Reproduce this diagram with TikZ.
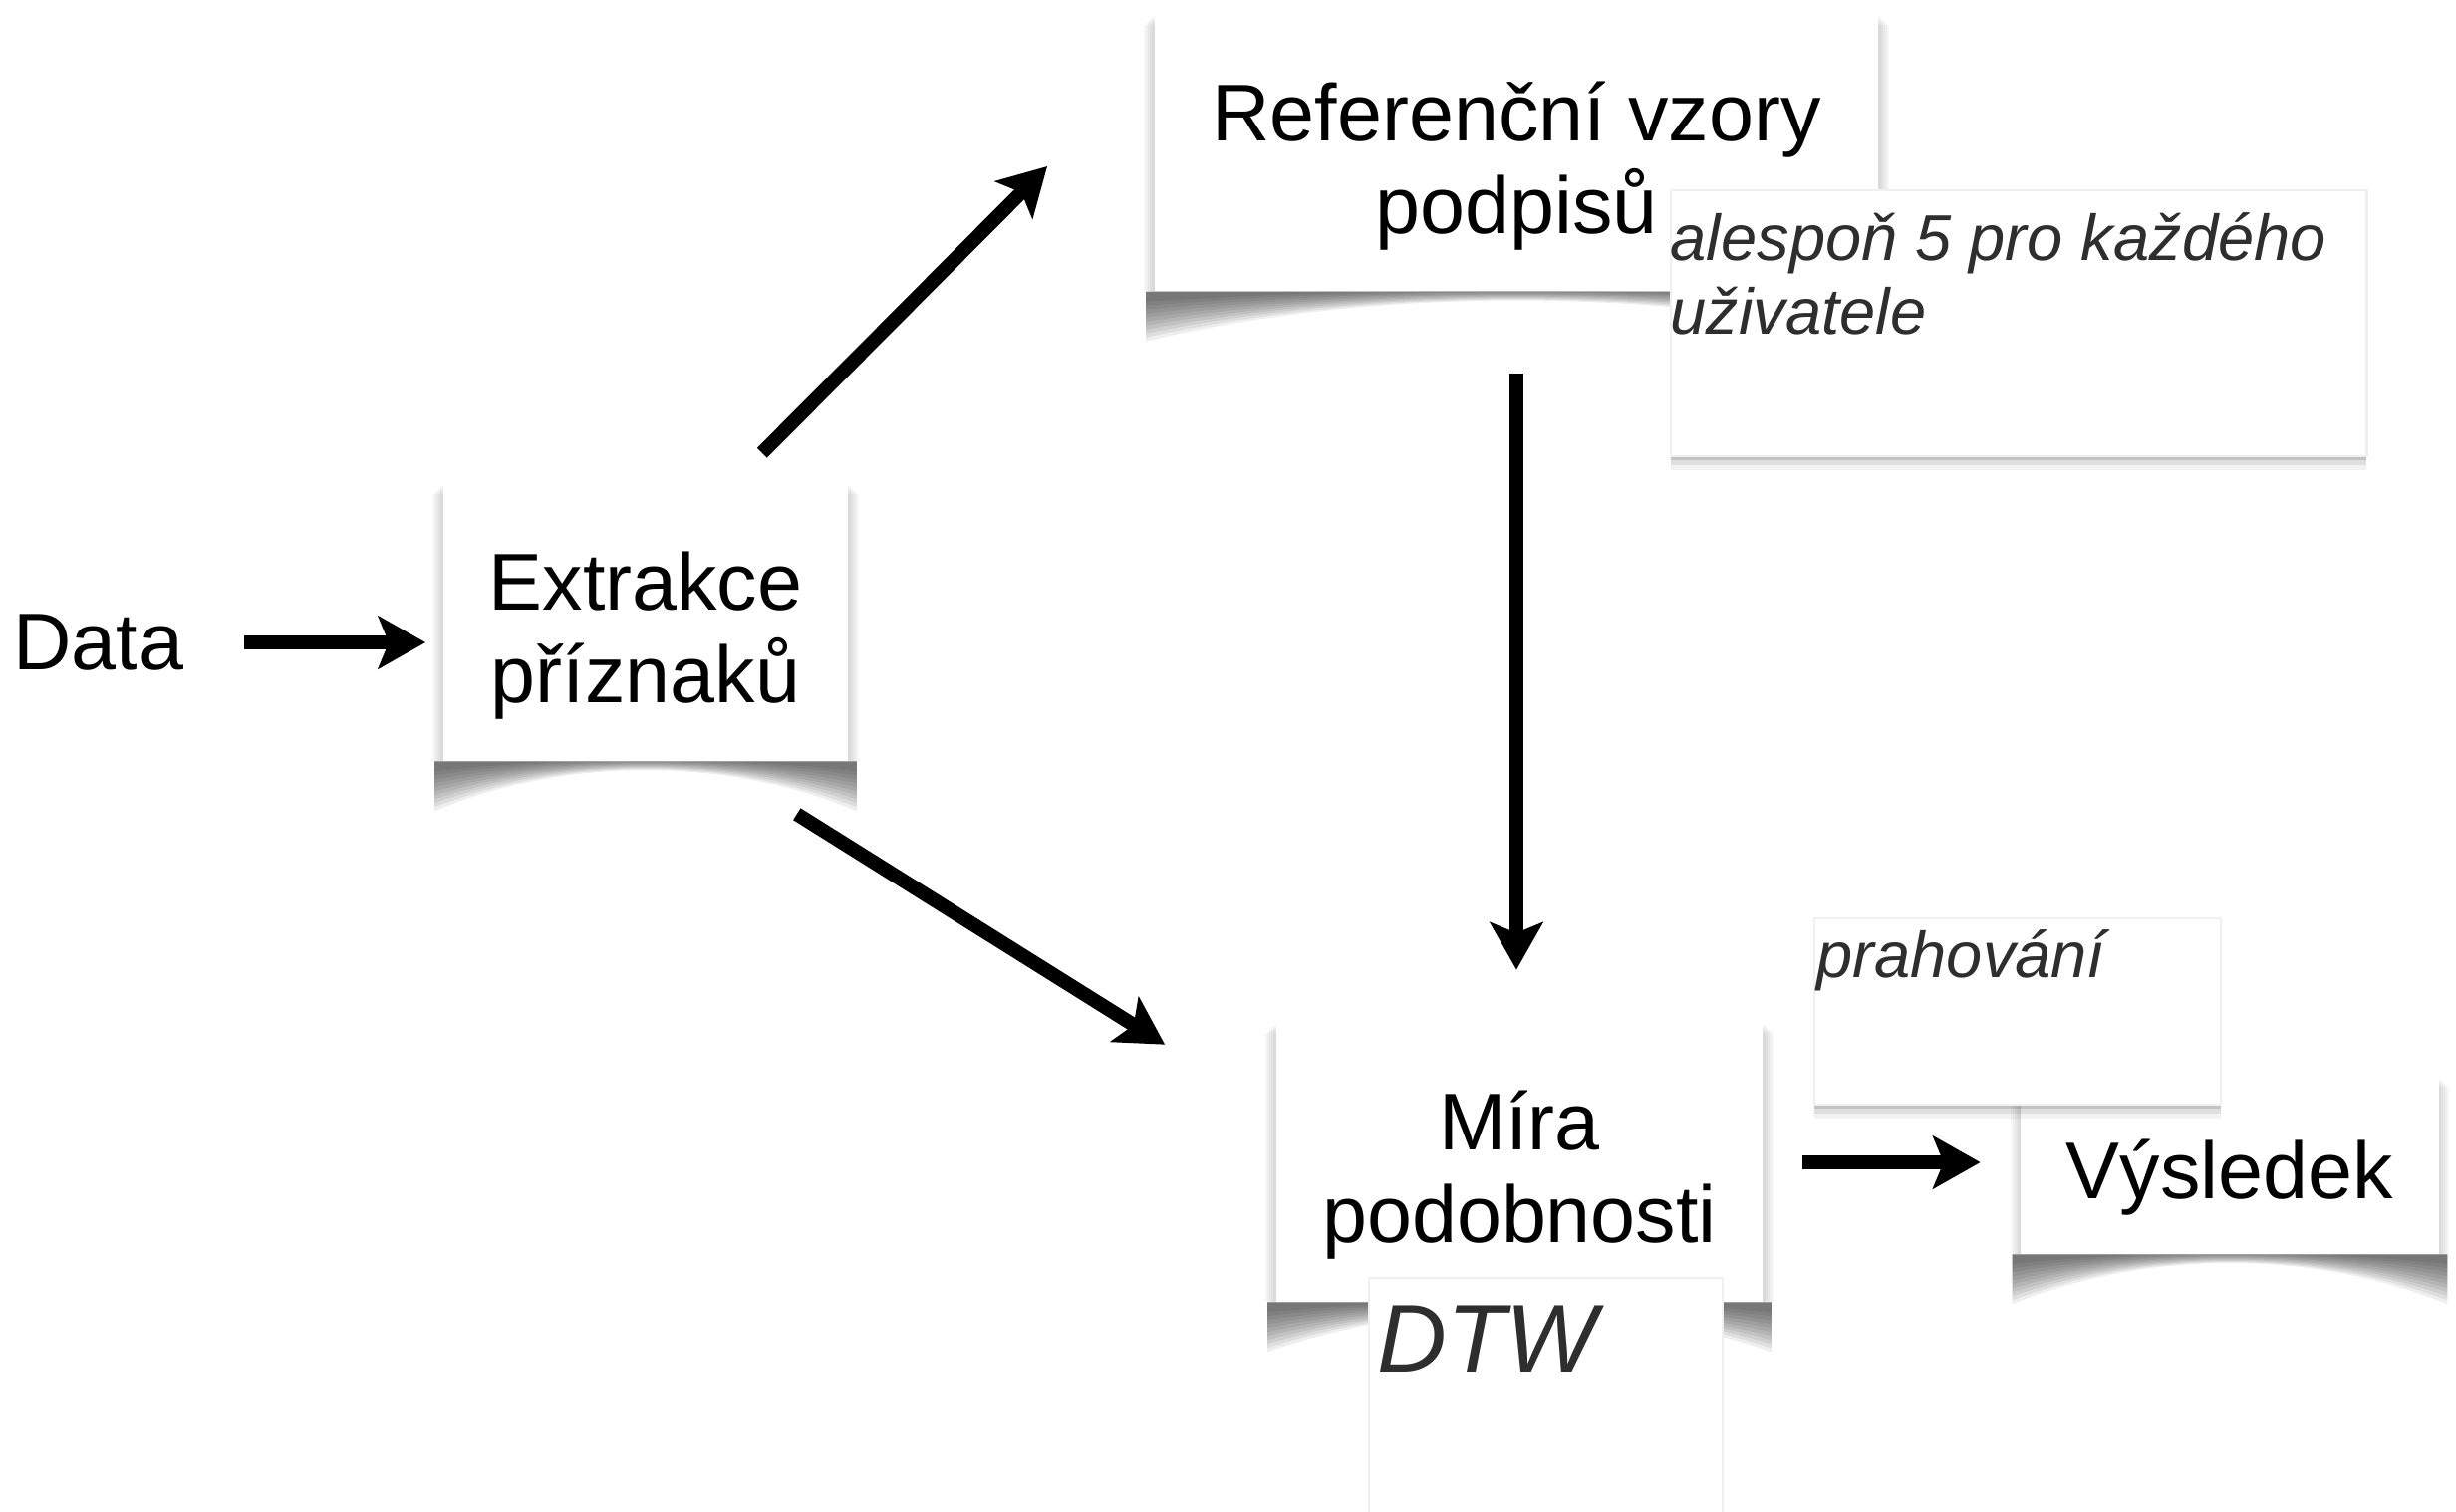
\documentclass[tikz,border=0pt]{standalone}
\usepackage{fontspec}
\setmainfont{Liberation Sans}
\usetikzlibrary{arrows.meta, calc, backgrounds, shadows}

% curled shadow under a card
\newcommand{\curlshade}[1]{%
  \begin{scope}[on background layer]
    \foreach \k in {2,4,6,8,10}
      \fill[black, opacity=0.03] ([shift={(-\k,\k)}]#1.north west) rectangle ([shift={(\k,0)}]#1.south east);
    \foreach \dd in {50,46,...,10}
      \fill[black, opacity=0.065] ([shift={(-8,0)}]#1.south west) -- ++(0,\dd)
        .. controls ($(#1.south west)!0.3!(#1.south east)+(0,-5)$) and ($(#1.south west)!0.7!(#1.south east)+(0,-5)$)
        .. ([shift={(8,\dd)}]#1.south east) -- ([shift={(8,0)}]#1.south east) -- cycle;
  \end{scope}}
\newcommand{\toprow}{\rule{0pt}{24pt}}

\tikzset{
  card/.style={rectangle, fill=white, inner sep=0pt, align=center,
               font=\fontsize{23}{26.5}\selectfont},
  note/.style={rectangle, fill=white, inner sep=0pt, draw=black!6, line width=0.6pt,
               drop shadow={shadow xshift=0pt, shadow yshift=-1pt, opacity=.12, fill=black},
               drop shadow={shadow xshift=0pt, shadow yshift=-2.5pt, opacity=.08, fill=black},
               drop shadow={shadow xshift=0pt, shadow yshift=-4pt, opacity=.05, fill=black}},
  notetext/.style={inner sep=0pt, anchor=base west, text=black!82, align=left,
                   font=\fontsize{18.5}{21}\selectfont\itshape},
  arc/.style={-{Stealth[length=13.5pt, width=15pt, inset=3pt]}, line width=4pt}
}

\begin{document}
\begin{tikzpicture}[x=0.01cm, y=-0.01cm]
  \useasboundingbox (0,0) rectangle (2465,1517);

  \node[inner sep=0pt, font=\fontsize{23}{26.5}\selectfont] (data) at (99,645) {Data};
  \node[card, minimum width=4.06cm, minimum height=2.77cm] (extr) at (648,625) {\toprow Extrakce\\příznaků};
  \node[card, minimum width=7.26cm, minimum height=2.76cm] (ref) at (1522,154) {\toprow Referenční vzory\\podpisů};
  \node[note, minimum width=6.98cm, minimum height=2.67cm, anchor=north west] (alespon) at (1676,190) {};
  \node[notetext] (alesponT) at ([shift={(0,145)}]alespon.north west) {alespoň 5 pro každého\\uživatele};

  \node[card, minimum width=4.88cm, minimum height=2.79cm] (mira) at (1525,1167) {\toprow Míra\\podobnosti};
  \node[note, minimum width=3.55cm, minimum height=2.6cm, anchor=north west] (dtw) at (1373,1282) {};
  \node[notetext, font=\fontsize{27.5}{30}\selectfont\itshape] (dtwT) at ([shift={(9,95)}]dtw.north west) {DTW};

  \node[card, minimum width=4.19cm, minimum height=1.77cm] (vysl) at (2238,1170) {\rule{0pt}{24pt}Výsledek};
  \node[note, minimum width=4.08cm, minimum height=1.87cm, anchor=north west] (prah) at (1820,921) {};
  \node[notetext] (prahT) at ([shift={(3,60)}]prah.north west) {prahování};

  \curlshade{extr}
  \curlshade{ref}
  \curlshade{mira}
  \curlshade{vysl}

  \draw[arc, shorten <=0.6cm, shorten >=0.17cm] (data.east) -- (data.east -| extr.west);
  \draw[arc] ([shift={(-87,-31)}]extr.north east) -- ([shift={(-107,13)}]ref.west);
  \draw[arc] ([shift={(-52,53)}]extr.south east) -- ([shift={(-111,22)}]mira.north west);
  \draw[arc, shorten <=0.82cm, shorten >=0.53cm] (ref.south) -- (ref.south |- mira.north);
  \draw[arc, shorten <=0.39cm, shorten >=0.4cm] (mira.east) -- (mira.east -| vysl.west);
\end{tikzpicture}
\end{document}
